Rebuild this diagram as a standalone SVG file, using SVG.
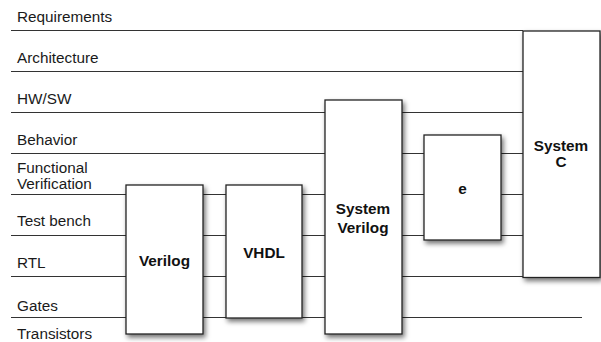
<svg xmlns="http://www.w3.org/2000/svg" width="601" height="342" viewBox="0 0 601 342">
<defs>
<style>
.lbl{font-family:"Liberation Sans",Arial,sans-serif;font-size:15.3px;fill:#1a1a1a}
.box{fill:#fff;stroke:#222;stroke-width:1.3;filter:url(#sh)}
.bt{font-family:"Liberation Sans",Arial,sans-serif;font-size:15.3px;font-weight:bold;fill:#111;text-anchor:middle}
.ln{stroke:#333;stroke-width:1.2;fill:none}
</style>
<filter id="sh" x="-20%" y="-20%" width="150%" height="140%">
<feDropShadow dx="2" dy="3" stdDeviation="2.5" flood-color="#000" flood-opacity="0.55"/>
</filter>
</defs>
<rect width="601" height="342" fill="#fff"/>
<g id="layer-labels">
<text class="lbl" x="17" y="21.7">Requirements</text>
<text class="lbl" x="17" y="63">Architecture</text>
<text class="lbl" x="17" y="103.5">HW/SW</text>
<text class="lbl" x="17" y="145">Behavior</text>
<text class="lbl" x="17" y="173">Functional</text>
<text class="lbl" x="17" y="189.3">Verification</text>
<text class="lbl" x="17" y="226">Test bench</text>
<text class="lbl" x="17" y="267.7">RTL</text>
<text class="lbl" x="17" y="311">Gates</text>
<text class="lbl" x="17" y="339">Transistors</text>
</g>
<g id="connectors">
<line class="ln" x1="11" y1="30.5" x2="523" y2="30.5"/>
<line class="ln" x1="11" y1="71.5" x2="523" y2="71.5"/>
<line class="ln" x1="11" y1="112.5" x2="523" y2="112.5"/>
<line class="ln" x1="11" y1="153.5" x2="523" y2="153.5"/>
<line class="ln" x1="11" y1="194.5" x2="523" y2="194.5"/>
<line class="ln" x1="11" y1="235.5" x2="523" y2="235.5"/>
<line class="ln" x1="11" y1="276.5" x2="523" y2="276.5"/>
<line class="ln" x1="11" y1="317.5" x2="582" y2="317.5"/>
</g>
<g id="verilog">
<rect class="box" x="126" y="185" width="77" height="149"/>
<text class="bt" x="164.5" y="266">Verilog</text>
</g>
<g id="vhdl">
<rect class="box" x="226" y="185" width="76" height="133"/>
<text class="bt" x="264" y="258.3">VHDL</text>
</g>
<g id="system-verilog">
<rect class="box" x="325" y="100" width="77" height="234"/>
<text class="bt" x="363" y="214.3">System</text>
<text class="bt" x="363" y="232.7">Verilog</text>
</g>
<g id="e">
<rect class="box" x="424" y="135" width="77" height="105"/>
<text class="bt" x="462.5" y="193.7">e</text>
</g>
<g id="system-c">
<rect class="box" x="523" y="31" width="77" height="246.5"/>
<text class="bt" x="561" y="150.7">System</text>
<text class="bt" x="561" y="166.7">C</text>
</g>
</svg>
